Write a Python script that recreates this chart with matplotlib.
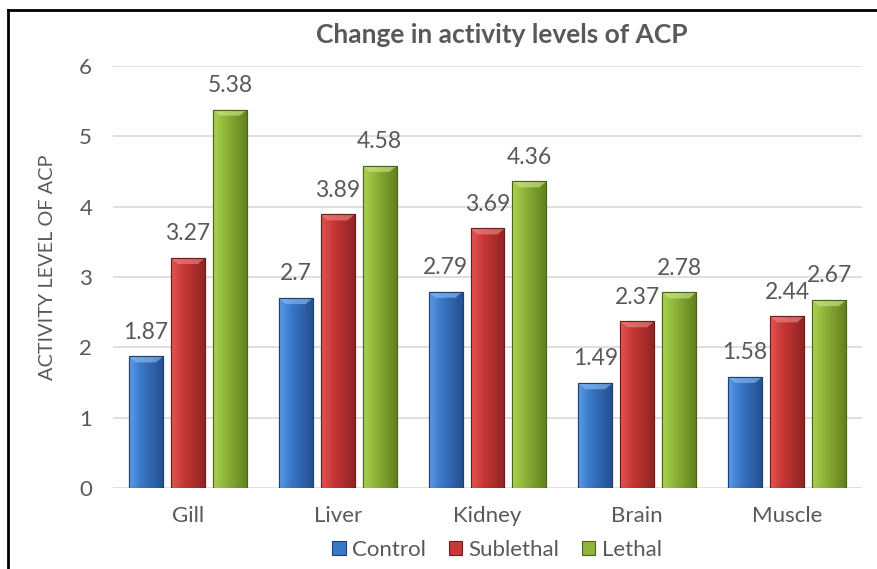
import numpy as np
import matplotlib
matplotlib.use('Agg')
import matplotlib.pyplot as plt
from matplotlib.colors import LinearSegmentedColormap
from matplotlib.patches import Patch, Polygon
from matplotlib.lines import Line2D

categories = ['Gill', 'Liver', 'Kidney', 'Brain', 'Muscle']
series_names = ['Control', 'Sublethal', 'Lethal']
control = [1.87, 2.7, 2.79, 1.49, 1.58]
sublethal = [3.27, 3.89, 3.69, 2.37, 2.44]
lethal = [5.38, 4.58, 4.36, 2.78, 2.67]
yticks = [0, 1, 2, 3, 4, 5, 6]

title = 'Change in activity levels of ACP'
ylabel = 'ACTIVITY LEVEL OF ACP'

plt.rcParams['font.family'] = ['Lato', 'DejaVu Sans']
TXT = '#595959'

# (left light, middle, right dark, edge, bevel)
palettes = [
    ('#5b9be6', '#3a78c9', '#24508f', '#1d4173', '#8ec0f5'),
    ('#e05553', '#c83836', '#902423', '#6e1c1b', '#f08a88'),
    ('#aad14f', '#8fb63a', '#63811f', '#4c6418', '#cfe88f'),
]

W, H = 878, 569
fig = plt.figure(figsize=(W / 100, H / 100), dpi=100)
ax = fig.add_axes([113 / W, 1 - 488 / H, (862 - 113) / W, (488 - 66) / H])

values = [control, sublethal, lethal]
x = np.arange(len(categories))
bw = 34 / 150
step = 42 / 150
grad = np.linspace(0, 1, 64).reshape(1, -1)

for i, (vals, pal) in enumerate(zip(values, palettes)):
    light, mid, dark, edge, bev = pal
    cmap = LinearSegmentedColormap.from_list('g%d' % i, [(0, light), (0.35, mid), (1, dark)])
    bars = ax.bar(x + (i - 1) * step, vals, width=bw, color=mid, edgecolor=edge,
                  linewidth=0.8, zorder=3)
    for b, v in zip(bars, vals):
        x0, w, h = b.get_x(), b.get_width(), b.get_height()
        im = ax.imshow(grad, extent=[x0, x0 + w, 0, h], aspect='auto', cmap=cmap,
                       interpolation='bicubic', zorder=3.5)
        im.set_clip_path(b)
        d = 6 / 70.3
        ins = 7 / 150
        poly = Polygon([(x0, h), (x0 + w, h), (x0 + w - ins, h - d), (x0 + ins, h - d)],
                       closed=True, facecolor=bev, edgecolor='none', alpha=0.6, zorder=4)
        ax.add_patch(poly)
        ax.add_patch(Polygon([(x0, 0), (x0, h), (x0 + w, h), (x0 + w, 0)], closed=True,
                             fill=False, edgecolor=edge, linewidth=0.8, zorder=4.5))
        ax.annotate(f'{v:g}', (x0 + w / 2, h), xytext=(0, 17.5), textcoords='offset points',
                    ha='center', va='center', fontsize=16.5, color=TXT, zorder=5)

ax.set_xlim(-0.5, len(categories) - 0.5)
ax.set_ylim(0, 6)
ax.set_yticks(yticks)
ax.set_xticks(x)
ax.set_xticklabels(categories)
ax.tick_params(axis='both', length=0, labelsize=16, labelcolor=TXT)
ax.tick_params(axis='y', pad=15)
ax.tick_params(axis='x', pad=13)
for s in ax.spines.values():
    s.set_visible(False)
ax.yaxis.grid(True, color='#d9d9d9', linewidth=1.2)
ax.set_axisbelow(True)

fig.text(48 / W, 1 - 267 / H, ylabel, rotation=90, ha='center', va='center',
         fontsize=14.3, color=TXT)

fig.text(502 / W, 1 - 35 / H, title, ha='center', va='center', fontsize=19,
         fontweight='bold', color=TXT)

handles = [Patch(facecolor=p[1], edgecolor=p[3], linewidth=0.8) for p in palettes]
fig.legend(handles, series_names, loc='center', bbox_to_anchor=(497 / W, 1 - 550 / H),
           ncol=3, frameon=False, fontsize=16, labelcolor=TXT, handlelength=0.6,
           handleheight=0.6, handletextpad=0.3, columnspacing=1.0)

# border (top and left visible)
fig.add_artist(Line2D([8 / W, 1], [1 - 10 / H, 1 - 10 / H], color='black', linewidth=2,
                      transform=fig.transFigure))
fig.add_artist(Line2D([8 / W, 8 / W], [0, 1 - 10 / H], color='black', linewidth=2,
                      transform=fig.transFigure))

fig.savefig('out.png', dpi=100)
